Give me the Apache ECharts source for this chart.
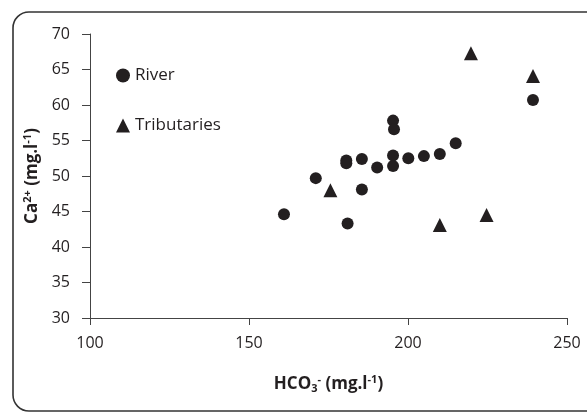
<!DOCTYPE html>
<html>
<head>
<meta charset="utf-8">
<script src="https://cdn.jsdelivr.net/npm/echarts@6/dist/echarts.min.js"></script>
<style>
html,body{margin:0;padding:0;background:#fff;overflow:hidden;}
#c{width:587px;height:412px;}
</style>
</head>
<body>
<div id="c"></div>
<script>
// River (HCO3-, Ca2+)
const riverX = [161, 171, 181, 180.6, 180.6, 185.5, 185.5, 190.3, 195.3, 195.6, 195.3, 195.3, 200.1, 205, 210, 215, 239.3];
const riverY = [44.6, 49.7, 43.3, 52.2, 51.8, 52.4, 48.1, 51.2, 57.8, 56.6, 52.9, 51.4, 52.5, 52.8, 53.1, 54.6, 60.7];
// Tributaries
const tribX = [175.6, 210, 219.8, 224.7, 239.3];
const tribY = [48.0, 43.1, 67.3, 44.5, 64.1];
const xTicks = [100, 150, 200, 250];
const yTicks = [30, 35, 40, 45, 50, 55, 60, 65, 70];

const ink = '#231f20';
const font = "'Open Sans', 'Liberation Sans', sans-serif";
const chart = echarts.init(document.getElementById('c'), null, {renderer: 'canvas'});
const pair = (xs, ys) => xs.map((x, i) => [x, ys[i]]);

chart.setOption({
  animation: false,
  backgroundColor: '#fff',
  graphic: [{
    type: 'rect', silent: true,
    shape: {x: 13, y: 12, width: 600, height: 399, r: 16},
    style: {fill: 'none', stroke: '#333', lineWidth: 1.6}
  }],
  grid: {left: 90, right: 20, top: 34, bottom: 94, containLabel: false},
  legend: {
    orient: 'vertical', left: 111, top: 62,
    itemWidth: 14, itemHeight: 14, itemGap: 33,
    textStyle: {fontFamily: font, fontSize: 17, color: ink},
    data: [{name: 'River', icon: 'circle'}, {name: 'Tributaries', icon: 'triangle'}]
  },
  xAxis: {
    type: 'value', min: xTicks[0], max: xTicks[xTicks.length - 1], interval: 50,
    axisLine: {show: true, lineStyle: {color: '#444', width: 1}},
    axisTick: {show: true, inside: false, length: 7, lineStyle: {color: '#444'}},
    splitLine: {show: false},
    axisLabel: {fontFamily: font, fontSize: 16, color: ink, margin: 17},
    name: '{b|HCO}{sub|3}{sup|-}{b| (mg.l}{sup|-1}{b|)}',
    nameLocation: 'middle', nameGap: 56,
    nameTextStyle: {
      rich: {
        b: {fontFamily: font, fontSize: 17, fontWeight: 'bold', color: ink},
        sub: {fontFamily: font, fontSize: 11, fontWeight: 'bold', color: ink, verticalAlign: 'bottom', padding: [9, 0, 0, 0]},
        sup: {fontFamily: font, fontSize: 11, fontWeight: 'bold', color: ink, verticalAlign: 'top', padding: [0, 0, 9, 0]}
      }
    }
  },
  yAxis: {
    type: 'value', min: yTicks[0], max: yTicks[yTicks.length - 1], interval: 5,
    axisLine: {show: true, lineStyle: {color: '#444', width: 1}},
    axisTick: {show: true, inside: false, length: 8, lineStyle: {color: '#444'}},
    splitLine: {show: false},
    axisLabel: {fontFamily: font, fontSize: 16, color: ink, margin: 20},
    name: '{b|Ca}{sup|2+}{b| (mg.l}{sup|-1}{b|)}',
    nameLocation: 'middle', nameGap: 47, nameRotate: 90,
    nameTextStyle: {
      rich: {
        b: {fontFamily: font, fontSize: 17, fontWeight: 'bold', color: ink},
        sup: {fontFamily: font, fontSize: 11, fontWeight: 'bold', color: ink, verticalAlign: 'top', padding: [0, 0, 9, 0]}
      }
    }
  },
  series: [
    {name: 'River', type: 'scatter', symbol: 'circle', symbolSize: 12,
     itemStyle: {color: ink, opacity: 1}, data: pair(riverX, riverY)},
    {name: 'Tributaries', type: 'scatter', symbol: 'triangle', symbolSize: 14,
     itemStyle: {color: ink, opacity: 1}, data: pair(tribX, tribY)}
  ]
});
</script>
</body>
</html>
